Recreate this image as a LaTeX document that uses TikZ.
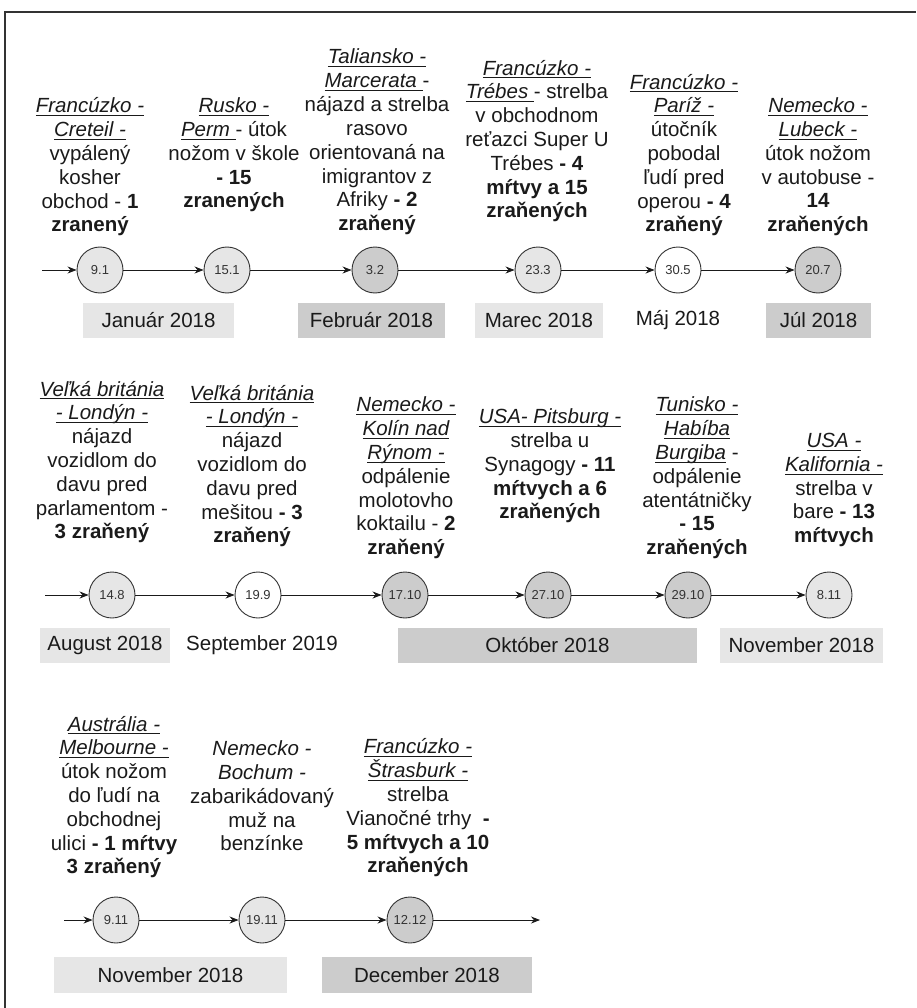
\documentclass[tikz,border=0pt]{standalone}
\usepackage{fontspec}
\setmainfont{Liberation Sans}
\usetikzlibrary{arrows.meta}
\usetikzlibrary{positioning}

\definecolor{lightfill}{HTML}{E6E6E6}
\definecolor{darkfill}{HTML}{CCCCCC}
\definecolor{ink}{HTML}{1A1A1A}
\definecolor{rim}{HTML}{333333}
\newsavebox{\placebox}
\newcommand{\place}[1]{\sbox{\placebox}{\itshape #1}\rlap{\rule[-3.2pt]{\wd\placebox}{0.9pt}}\usebox{\placebox}}

\begin{document}
\begin{tikzpicture}[
    x=1pt, y=-1pt,
    daynode/.style={circle, draw=rim, line width=0.9pt, minimum size=46pt, inner sep=0pt, text=rim, font=\fontsize{13}{15}\selectfont},
    monthbox/.style={minimum height=35pt, inner sep=0pt, text=ink, font=\fontsize{20.5}{24}\selectfont},
    eventtext/.style={align=center, inner sep=0pt, text=ink, font=\fontsize{20.5}{23.8}\selectfont},
    arrow/.style={-{Stealth[length=9pt,width=7pt]}, line width=0.9pt, draw=ink}
]
  \useasboundingbox (0,0) rectangle (916,1008);

  % frame (cut at right and bottom)
  \draw[rim, line width=1.2pt] (5,1008) -- (5,12) -- (916,12);

  % ---------- first row ----------
  \node[eventtext] (ev-creteil) at (90,167) {\place{Francúzko -}\\ \place{Creteil -}\\ vypálený\\ kosher\\ obchod - \textbf{1}\\ \textbf{zranený}};
  \node[eventtext] (ev-perm) at (234,155) {\place{Rusko -}\\ \place{Perm }- útok\\ nožom v škole\\ \textbf{- 15}\\ \textbf{zranených}};
  \node[eventtext] (ev-marcerata) at (377,142) {\place{Taliansko -}\\ \place{Marcerata }-\\ nájazd a strelba\\ rasovo\\ orientovaná na\\ imigrantov z\\ Afriky \textbf{- 2}\\ \textbf{zraňený}};
  \node[eventtext] (ev-trebes) at (537,141) {\place{Francúzko -}\\ \place{Trébes }- strelba\\ v obchodnom\\ reťazci Super U\\ Trébes \textbf{- 4}\\ \textbf{mŕtvy a 15}\\ \textbf{zraňených}};
  \node[eventtext] (ev-pariz) at (684,155) {\place{Francúzko -}\\ \place{Paríž -}\\ útočník\\ pobodal\\ ľudí pred\\ operou \textbf{- 4}\\ \textbf{zraňený}};
  \node[eventtext] (ev-lubeck) at (818,167) {\place{Nemecko -}\\ \place{Lubeck -}\\ útok nožom\\ v autobuse -\\ \textbf{14}\\ \textbf{zraňených}};

  \coordinate (start1) at (42,270);
  \node[daynode, fill=lightfill] (c91) at (100,270) {9.1};
  \node[daynode, fill=lightfill] (c151) at (227,270) {15.1};
  \node[daynode, fill=darkfill] (c32) at (375,270) {3.2};
  \node[daynode, fill=lightfill] (c233) at (538,270) {23.3};
  \node[daynode, fill=white] (c305) at (678,270) {30.5};
  \node[daynode, fill=darkfill] (c207) at (818,270) {20.7};

  \draw[arrow] (start1) -- (c91);
  \draw[arrow] (c91) -- (c151);
  \draw[arrow] (c151) -- (c32);
  \draw[arrow] (c32) -- (c233);
  \draw[arrow] (c233) -- (c305);
  \draw[arrow] (c305) -- (c207);

  \node[monthbox, fill=lightfill, minimum width=151pt] (jan) at (158.5,320.5) {Január 2018};
  \node[monthbox, fill=darkfill, minimum width=147pt] (feb) at (371.5,320.5) {Február 2018};
  \node[monthbox, fill=lightfill, minimum width=128pt] (mar) at (539,320.5) {Marec 2018};
  \node[monthbox] (maj) at (678,320.5) {Máj 2018};
  \node[monthbox, fill=darkfill, minimum width=105pt] (jul) at (818.5,320.5) {Júl 2018};

  % ---------- second row ----------
  \node[eventtext] (ev-london1) at (102,462) {\place{Veľká británia}\\ \place{- Londýn -}\\ nájazd\\ vozidlom do\\ davu pred\\ parlamentom -\\ \textbf{3 zraňený}};
  \node[eventtext] (ev-london2) at (252,466) {\place{Veľká británia}\\ \place{- Londýn -}\\ nájazd\\ vozidlom do\\ davu pred\\ mešitou \textbf{- 3}\\ \textbf{zraňený}};
  \node[eventtext] (ev-koln) at (406,478) {\place{Nemecko -}\\ \place{Kolín nad}\\ \place{Rýnom -}\\ odpálenie\\ molotovho\\ koktailu - \textbf{2}\\ \textbf{zraňený}};
  \node[eventtext] (ev-pitsburg) at (550,466) {\place{USA- Pitsburg -}\\ strelba u\\ Synagogy \textbf{- 11}\\ \textbf{mŕtvych a 6}\\ \textbf{zraňených}};
  \node[eventtext] (ev-tunis) at (697,478) {\place{Tunisko -}\\ \place{Habíba}\\ \place{Burgiba} -\\ odpálenie\\ atentátničky\\ \textbf{- 15}\\ \textbf{zraňených}};
  \node[eventtext] (ev-kalifornia) at (834,490) {\place{USA -}\\ \place{Kalifornia -}\\ strelba v\\ bare \textbf{- 13}\\ \textbf{mŕtvych}};

  \coordinate (start2) at (45,595);
  \node[daynode, fill=lightfill] (c148) at (112,595) {14.8};
  \node[daynode, fill=white] (c199) at (258,595) {19.9};
  \node[daynode, fill=darkfill] (c1710) at (405,595) {17.10};
  \node[daynode, fill=darkfill] (c2710) at (548,595) {27.10};
  \node[daynode, fill=darkfill] (c2910) at (688,595) {29.10};
  \node[daynode, fill=lightfill] (c811) at (829,595) {8.11};

  \draw[arrow] (start2) -- (c148);
  \draw[arrow] (c148) -- (c199);
  \draw[arrow] (c199) -- (c1710);
  \draw[arrow] (c1710) -- (c2710);
  \draw[arrow] (c2710) -- (c2910);
  \draw[arrow] (c2910) -- (c811);

  \node[monthbox, fill=lightfill, minimum width=130pt] (aug) at (105,645) {August 2018};
  \node[monthbox] (sep) at (262,645) {September 2019};
  \node[monthbox, fill=darkfill, minimum width=299pt] (okt) at (547.5,645) {Október 2018};
  \node[monthbox, fill=lightfill, minimum width=163pt] (nov) at (801.5,645) {November 2018};

  % ---------- third row ----------
  \node[eventtext] (ev-melbourne) at (114,797) {\place{Austrália -}\\ \place{Melbourne -}\\ útok nožom\\ do ľudí na\\ obchodnej\\ ulici \textbf{- 1 mŕtvy}\\ \textbf{3 zraňený}};
  \node[eventtext] (ev-bochum) at (262,796) {\textit{Nemecko -}\\ \textit{Bochum -}\\ zabarikádovaný\\ muž na\\ benzínke};
  \node[eventtext] (ev-strasburk) at (418,808) {\place{Francúzko -}\\ \place{Štrasburk -}\\ strelba\\ Vianočné trhy \ \textbf{-}\\ \textbf{5 mŕtvych a 10}\\ \textbf{zraňených}};

  \coordinate (start3) at (64,920);
  \coordinate (end3) at (540,920);
  \node[daynode, fill=lightfill] (c911) at (116,920) {9.11};
  \node[daynode, fill=lightfill] (c1911) at (262,920) {19.11};
  \node[daynode, fill=darkfill] (c1212) at (410,920) {12.12};

  \draw[arrow] (start3) -- (c911);
  \draw[arrow] (c911) -- (c1911);
  \draw[arrow] (c1911) -- (c1212);
  \draw[arrow] (c1212) -- (end3);

  \node[monthbox, fill=lightfill, minimum width=233pt, minimum height=36pt] (nov2) at (170.5,975) {November 2018};
  \node[monthbox, fill=darkfill, minimum width=210pt, minimum height=36pt] (dec) at (427,975) {December 2018};

\end{tikzpicture}
\end{document}
